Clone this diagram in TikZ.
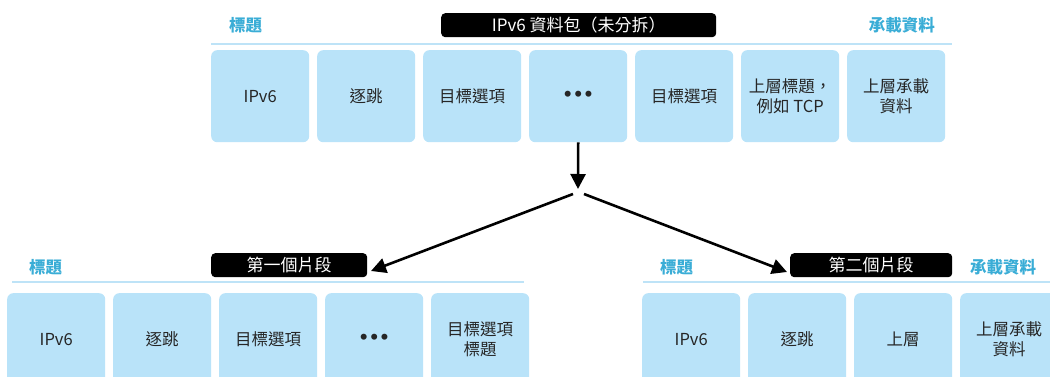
\documentclass[tikz,border=0pt]{standalone}
\usepackage{fontspec}
\setmainfont{Noto Sans CJK TC}
\newfontfamily\dotsfont{DejaVu Sans}
\usetikzlibrary{arrows.meta}
\definecolor{boxblue}{HTML}{B9E3F9}
\definecolor{rulblue}{HTML}{BEE3F7}
\definecolor{labcyan}{HTML}{3AADD6}
\tikzset{
  cell/.style={anchor=north west, rounded corners=6pt, fill=boxblue, minimum width=98pt, minimum height=92pt, inner sep=0pt, align=center, text=black!85, font=\fontsize{16.5}{20.5}\selectfont},
  titlebox/.style={anchor=north west, rounded corners=4pt, fill=black, text=white, minimum height=24pt, inner sep=0pt, font=\fontsize{17}{20}\selectfont},
  lab/.style={text=labcyan, font=\fontsize{16.5}{20}\selectfont\bfseries, inner sep=0pt},
  rul/.style={draw=rulblue, line width=1.3pt},
  arr/.style={line width=2.6pt, -{Triangle[length=15pt,width=15pt]}},
  seg/.style={line width=2.6pt}
}
\newcommand{\mydots}{{\dotsfont\fontsize{17}{20}\selectfont\textbf{•\kern-0.5pt•\kern-0.5pt•}}}
\begin{document}
\begin{tikzpicture}[x=1pt,y=-1pt]
\useasboundingbox (0,0) rectangle (1050,377);
\clip (0,0) rectangle (1050,377);
% top packet
\node[lab, anchor=west] (th) at (229,25) {標題};
\node[lab, anchor=east] (tp) at (935,25) {承載資料};
\node[titlebox, minimum width=275pt] (tt) at (441,13) {IPv6 資料包（未分拆）};
\coordinate (tra) at (211,44);
\coordinate (trb) at (952,44);
\draw[rul] (tra) -- (trb);
\node[cell] (t1) at (211,50) {IPv6};
\node[cell] (t2) at (317,50) {逐跳};
\node[cell] (t3) at (423,50) {目標選項};
\node[cell] (t4) at (529,50) {\mydots};
\node[cell] (t5) at (635,50) {目標選項};
\node[cell] (t6) at (741,50) {上層標題，\\例如 TCP};
\node[cell] (t7) at (847,50) {上層承載\\資料};
% first fragment
\node[lab, anchor=west] (ah) at (29,267) {標題};
\node[titlebox, minimum width=156pt] (at) at (211,253) {第一個片段};
\coordinate (ara) at (12,282);
\coordinate (arb) at (524,282);
\draw[rul] (ara) -- (arb);
\node[cell] (a1) at (7,293) {IPv6};
\node[cell] (a2) at (113,293) {逐跳};
\node[cell] (a3) at (219,293) {目標選項};
\node[cell] (a4) at (325,293) {\mydots};
\node[cell] (a5) at (431,293) {目標選項\\標題};
% second fragment
\node[lab, anchor=west] (bh) at (660,267) {標題};
\node[lab, anchor=west] (bp) at (970,267) {承載資料};
\node[titlebox, minimum width=162pt] (bt) at (790,253) {第二個片段};
\coordinate (bra) at (643,282);
\coordinate (brb) at (1060,282);
\draw[rul] (bra) -- (brb);
\node[cell] (b1) at (642,293) {IPv6};
\node[cell] (b2) at (748,293) {逐跳};
\node[cell] (b3) at (854,293) {上層};
\node[cell] (b4) at (960,293) {上層承載\\資料};
% arrows
\coordinate (split) at (578,189);
\coordinate (sl) at (573,194);
\coordinate (sr) at (584,194);
\coordinate (el) at (371,271);
\coordinate (er) at (787,272);
\draw[arr] (t4.south) -- (split);
\draw[arr] (sl) -- (el);
\draw[arr] (sr) -- (er);
\end{tikzpicture}
\end{document}
